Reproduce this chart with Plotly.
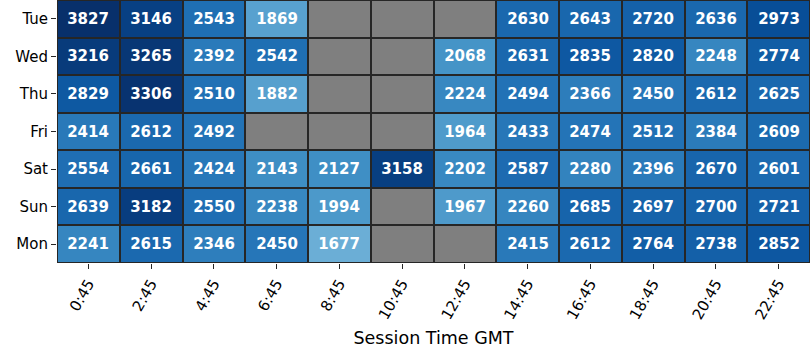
import plotly.graph_objects as go

days = ["Tue", "Wed", "Thu", "Fri", "Sat", "Sun", "Mon"]
times = ["0:45", "2:45", "4:45", "6:45", "8:45", "10:45", "12:45",
         "14:45", "16:45", "18:45", "20:45", "22:45"]
N = None
tue = [3827, 3146, 2543, 1869, N, N, N, 2630, 2643, 2720, 2636, 2973]
wed = [3216, 3265, 2392, 2542, N, N, 2068, 2631, 2835, 2820, 2248, 2774]
thu = [2829, 3306, 2510, 1882, N, N, 2224, 2494, 2366, 2450, 2612, 2625]
fri = [2414, 2612, 2492, N, N, N, 1964, 2433, 2474, 2512, 2384, 2609]
sat = [2554, 2661, 2424, 2143, 2127, 3158, 2202, 2587, 2280, 2396, 2670, 2601]
sun = [2639, 3182, 2550, 2238, 1994, N, 1967, 2260, 2685, 2697, 2700, 2721]
mon = [2241, 2615, 2346, 2450, 1677, N, N, 2415, 2612, 2764, 2738, 2852]
values = [tue, wed, thu, fri, sat, sun, mon]

blues = [[0.0, "#f7fbff"], [0.125, "#deebf7"], [0.25, "#c6dbef"], [0.375, "#9ecae1"],
         [0.5, "#6baed6"], [0.625, "#4292c6"], [0.75, "#2171b5"], [0.875, "#08519c"],
         [1.0, "#08306b"]]

text = [["" if v is None else str(v) for v in row] for row in values]
missing = [[1 if v is None else None for v in row] for row in values]

fig = go.Figure()
fig.add_trace(go.Heatmap(
    z=missing, x=times, y=days, colorscale=[[0, "#7f7f7f"], [1, "#7f7f7f"]],
    showscale=False, xgap=2, ygap=2, hoverinfo="skip"))
fig.add_trace(go.Heatmap(
    z=values, x=times, y=days, colorscale=blues, zmin=0, zmax=3350,
    showscale=False, xgap=2, ygap=2, text=text, texttemplate="%{text}",
    textfont=dict(family="DejaVu Sans", size=15, color="white", weight="bold")))

fig.update_layout(
    width=810, height=360,
    margin=dict(l=57, r=0, t=0, b=97),
    plot_bgcolor="#262626", paper_bgcolor="white",
    font=dict(family="DejaVu Sans", size=15, color="black"),
)
fig.update_xaxes(
    showgrid=False, zeroline=False, ticks="outside", ticklen=5, tickcolor="#262626",
    tickangle=-60, tickfont=dict(size=15),
    title=dict(text="Session Time GMT", font=dict(size=17.5), standoff=10))
fig.update_yaxes(
    showgrid=False, zeroline=False, ticks="outside", ticklen=5, tickcolor="#262626",
    autorange="reversed", tickfont=dict(size=15))

fig.write_html("out.html")
